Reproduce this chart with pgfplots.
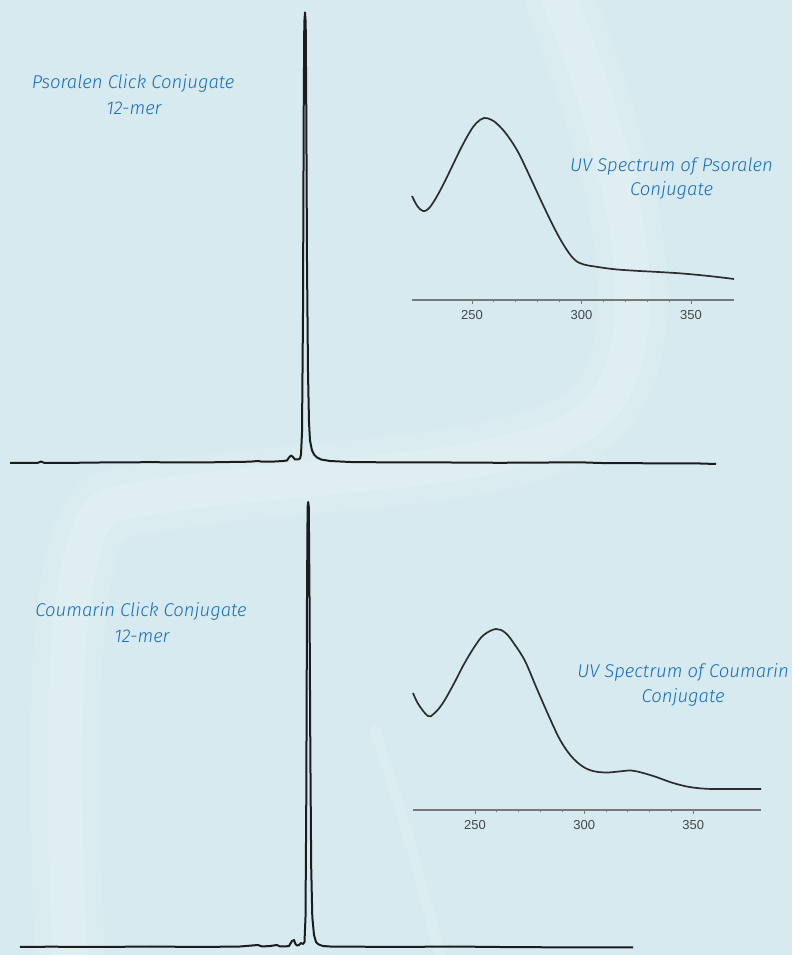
\documentclass[border=0pt]{standalone}
\usepackage{pgfplots}
\pgfplotsset{compat=1.18}
\usepackage{fontspec}
\setmainfont{Fira Sans}
\newfontfamily\lblfam{Fira Sans Light}
\newfontfamily\tickfont{Liberation Sans}
\definecolor{bgcol}{RGB}{215,234,239}
\definecolor{lblblue}{RGB}{22,110,190}
\definecolor{tracecol}{RGB}{28,28,28}
\definecolor{uvcol}{RGB}{45,45,45}
\definecolor{axgray}{RGB}{120,120,120}
\newcommand{\lbl}{\lblfam\fontsize{18.5}{22}\selectfont\itshape\color{lblblue}}
\pgfplotsset{uvstyle/.style={anchor=south west,scale only axis,
  ymin=0,ymax=200,height=200pt,clip=false,
  axis x line=bottom,axis y line=none,
  x axis line style={-,axgray,line width=1.4pt},
  xtick={250,300,350},xticklabels={250,300,350},
  minor x tick num=4,tick align=outside,
  major tick length=4pt,minor tick length=2.5pt,
  every tick/.style={axgray,line width=0.9pt},
  every minor tick/.style={axgray,line width=0.9pt},
  xticklabel style={font=\tickfont\fontsize{13}{13}\selectfont,text=black!72,yshift=-3pt},
  }}
\begin{document}
\begin{tikzpicture}
% background
\fill[bgcol] (0pt,0pt) rectangle (792pt,955pt);
% decorative swoosh
\begin{scope}[x=1pt,y=1pt,line cap=round]
\draw[white,opacity=0.10,line width=70] (560,955) .. controls (620,800) and (660,640) .. (610,560) .. controls (560,470) and (300,490) .. (110,450) .. controls (60,430) and (60,200) .. (70,0);
\draw[white,opacity=0.12,line width=35] (560,955) .. controls (620,800) and (660,640) .. (610,560) .. controls (560,470) and (300,490) .. (110,450) .. controls (60,430) and (60,200) .. (70,0);
\draw[white,opacity=0.15,line width=10] (375,225) .. controls (400,150) and (420,80) .. (440,0);
\end{scope}
% ---------- top chromatogram ----------
\begin{axis}[at={(0pt,492.5pt)},anchor=south west,scale only axis,
  width=792pt,height=450pt,xmin=0,xmax=792,ymin=0,ymax=450,
  hide axis,clip=false]
\addplot[tracecol,line width=2pt,line join=round] coordinates {
(10,-0.5)(30,-0.5)(38,-0.3)(41,1)(44,-0.3)(60,-0.5)(100,0)(150,0.3)(200,0)
(230,0.5)(250,0.8)(258,1.5)(262,0.8)(275,1)(283,1.5)(287,2)(289,5)(291,7)
(293,5.5)(295,3)(298,3)(300,4)(301,8)(302,30)(303,150)(303.7,350)(304.3,440)
(305,450)(305.7,440)(306.3,350)(307,200)(308,90)(309,40)(310,22)(312,12)
(314,8)(317,5)(321,3)(330,1.5)(350,0.5)(400,0)(450,0)(500,-0.3)(550,0)
(580,0.2)(600,-0.5)(650,-0.8)(700,-1)(716,-1.5)};
\end{axis}
% ---------- bottom chromatogram ----------
\begin{axis}[at={(0pt,8pt)},anchor=south west,scale only axis,
  width=792pt,height=445pt,xmin=0,xmax=792,ymin=0,ymax=445,
  hide axis,clip=false]
\addplot[tracecol,line width=2pt,line join=round] coordinates {
(20,0)(50,0.3)(100,0)(150,0.5)(200,0)(240,0.5)(258,2)(262,0.5)(270,1)(277,2)
(280,0.5)(285,0.5)(289,1)(292,6)(294,7)(295.5,3)(297,1.5)(299,2)(301,4)(303,3)
(304.5,5)(305.5,30)(306.3,150)(307,350)(307.6,440)(308.2,445)(308.8,440)
(309.5,350)(310.3,200)(311.2,80)(312.3,30)(314,12)(316,5)(318,3)(320,2)
(323,1)(330,0.5)(400,0)(450,0.5)(500,0)(550,-0.3)(600,-0.5)(633,-0.5)};
\end{axis}
% top UV
\begin{axis}[uvstyle,at={(412pt,655pt)},width=322pt,xmin=222.6,xmax=369.6]
\addplot[uvcol,line width=1.7pt,smooth,tension=0.6] coordinates {
(222.6,104)(225,94)(227.6,89)(230,91)(233,100)(237,116)(241,134)
(245,152)(249,168)(252,177)(255.5,182)(259,180)(262,175)(266,165)(271,148)
(276.5,123)(282,97)(288,70)(293,51)(297,40)(301,35.5)(306,33.5)(314,31)(322.6,29.5)
(335,28)(345.9,26.5)(358,24)(369.6,21)};
\end{axis}
% bottom UV
\begin{axis}[uvstyle,at={(413pt,145pt)},width=348pt,xmin=221.6,xmax=381]
\addplot[uvcol,line width=1.7pt,smooth,tension=0.6] coordinates {
(221.6,117)(224,106)(228.4,94)(231,96)(235,106)(240,125)(245,146)(250,164)
(254,175)(259.6,181)(264,177)(268,166)(272.9,149)(278,123)(284,93)(289,70)
(294,54)(299,44)(304,39)(310,37.5)(316,38.5)(321.6,39.5)(327,37)(333,33)(340,27.5)(347,23.5)
(354,21.5)(361,21)(381,21)};
\end{axis}
% ---------- labels ----------
\begin{scope}[x=1pt,y=1pt]
\node[anchor=base,inner sep=0pt,font=\lbl] at (133,866) {Psoralen Click Conjugate};
\node[anchor=base,inner sep=0pt,font=\lbl] at (134,840) {12-mer};
\node[anchor=base,inner sep=0pt,font=\lbl] at (671.5,783) {UV Spectrum of Psoralen};
\node[anchor=base,inner sep=0pt,font=\lbl] at (671.5,759) {Conjugate};
\node[anchor=base,inner sep=0pt,font=\lbl] at (141,338) {Coumarin Click Conjugate};
\node[anchor=base,inner sep=0pt,font=\lbl] at (142,312) {12-mer};
\node[anchor=base,inner sep=0pt,font=\lbl] at (683,277) {UV Spectrum of Coumarin};
\node[anchor=base,inner sep=0pt,font=\lbl] at (683,252) {Conjugate};
\end{scope}
\pgfresetboundingbox
\useasboundingbox (0pt,0pt) rectangle (792pt,955pt);
\end{tikzpicture}
\end{document}
